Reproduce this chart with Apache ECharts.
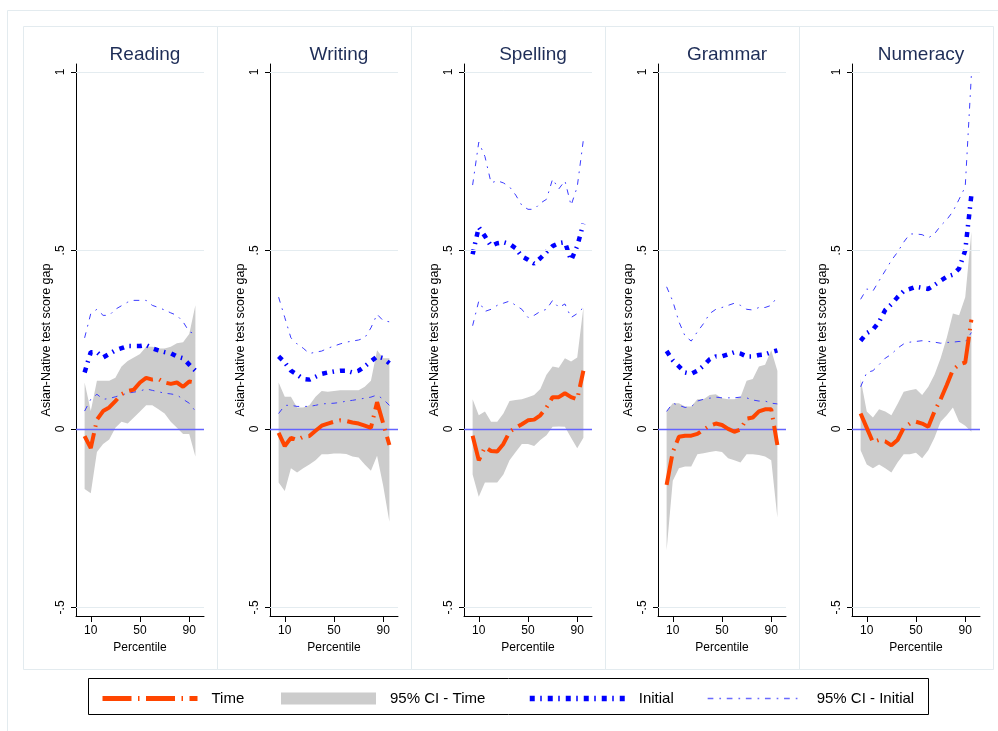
<!DOCTYPE html>
<html>
<head>
<meta charset="utf-8">
<script src="https://cdn.jsdelivr.net/npm/echarts@6/dist/echarts.min.js"></script>
<style>
html,body{margin:0;padding:0;background:#fff;}
#chart{width:998px;height:731px;}
</style>
</head>
<body>
<div id="chart"></div>
<script>
// ---- data ----
const percentiles = [5,10,15,20,25,30,35,40,45,50,55,60,65,70,75,80,85,90,95];
const subjects = ['Reading','Writing','Spelling','Grammar','Numeracy'];
const xTicks = [10,50,90];
const yTicks = [-0.5,0,0.5,1];

const readingTime    = [-0.02,-0.054,0.026,0.05,0.06,0.078,0.097,0.106,0.11,0.13,0.143,0.138,0.14,0.13,0.126,0.13,0.118,0.133,0.13];
const readingTimeLo  = [-0.168,-0.18,-0.065,-0.042,-0.03,0.003,0.02,0.015,0.032,0.049,0.066,0.066,0.055,0.043,0.02,0.003,-0.014,-0.014,-0.077];
const readingTimeHi  = [0.13,0.05,0.135,0.135,0.135,0.143,0.175,0.19,0.2,0.21,0.23,0.23,0.225,0.225,0.23,0.24,0.243,0.266,0.346];
const readingInit    = [0.158,0.215,0.215,0.2,0.21,0.22,0.226,0.232,0.232,0.232,0.235,0.226,0.22,0.215,0.212,0.203,0.198,0.18,0.163];
const readingInitHi  = [0.255,0.323,0.335,0.318,0.318,0.335,0.345,0.355,0.36,0.36,0.36,0.346,0.34,0.333,0.325,0.318,0.30,0.272,0.266];
const readingInitLo  = [0.05,0.083,0.097,0.083,0.085,0.09,0.095,0.1,0.103,0.106,0.112,0.108,0.104,0.1,0.098,0.095,0.083,0.072,0.05];

const writingTime    = [-0.011,-0.048,-0.025,-0.031,-0.022,-0.02,-0.005,0.009,0.015,0.02,0.024,0.022,0.018,0.015,0.009,0.003,0.075,0.015,-0.045];
const writingTimeLo  = [-0.15,-0.174,-0.11,-0.122,-0.11,-0.1,-0.088,-0.071,-0.071,-0.069,-0.069,-0.07,-0.077,-0.08,-0.1,-0.117,-0.075,-0.16,-0.26];
const writingTimeHi  = [0.13,0.09,0.09,0.06,0.06,0.066,0.09,0.106,0.104,0.106,0.108,0.108,0.108,0.108,0.118,0.135,0.22,0.198,0.198];
const writingInit    = [0.203,0.186,0.163,0.152,0.14,0.138,0.146,0.154,0.158,0.161,0.163,0.163,0.158,0.163,0.175,0.189,0.203,0.198,0.184];
const writingInitHi  = [0.369,0.312,0.255,0.238,0.226,0.211,0.215,0.218,0.226,0.232,0.238,0.243,0.246,0.249,0.255,0.283,0.321,0.303,0.3];
const writingInitLo  = [0.043,0.066,0.066,0.063,0.063,0.063,0.066,0.07,0.071,0.072,0.074,0.078,0.08,0.083,0.086,0.089,0.095,0.083,0.066];

const spellingTime   = [-0.019,-0.088,-0.051,-0.062,-0.063,-0.042,-0.008,0.003,0.013,0.024,0.026,0.038,0.06,0.089,0.089,0.1,0.089,0.083,0.163];
const spellingTimeLo = [-0.128,-0.19,-0.15,-0.15,-0.15,-0.128,-0.088,-0.065,-0.042,-0.042,-0.048,-0.031,-0.018,0.006,0.007,0.006,-0.025,-0.054,-0.025];
const spellingTimeHi = [0.083,0.038,0.049,0.02,0.02,0.043,0.078,0.081,0.083,0.089,0.095,0.112,0.152,0.175,0.171,0.198,0.189,0.2,0.34];
const spellingInit   = [0.489,0.565,0.54,0.512,0.52,0.523,0.518,0.506,0.483,0.474,0.463,0.478,0.495,0.512,0.52,0.523,0.472,0.512,0.575];
const spellingInitHi = [0.683,0.803,0.763,0.689,0.695,0.689,0.678,0.655,0.626,0.615,0.615,0.632,0.643,0.70,0.672,0.695,0.626,0.678,0.81];
const spellingInitLo = [0.289,0.358,0.329,0.335,0.346,0.352,0.358,0.346,0.335,0.312,0.318,0.329,0.335,0.36,0.34,0.35,0.312,0.323,0.34];

const grammarTime    = [-0.157,-0.065,-0.022,-0.019,-0.019,-0.014,-0.002,0.009,0.015,0.011,0,-0.008,-0.002,0.029,0.032,0.049,0.055,0.055,-0.045];
const grammarTimeLo  = [-0.34,-0.145,-0.11,-0.105,-0.105,-0.071,-0.068,-0.065,-0.062,-0.065,-0.082,-0.088,-0.094,-0.071,-0.071,-0.073,-0.077,-0.088,-0.248];
const grammarTimeHi  = [0.049,0.072,0.072,0.063,0.063,0.083,0.083,0.095,0.097,0.086,0.083,0.083,0.089,0.135,0.14,0.175,0.18,0.22,0.163];
const grammarInit    = [0.218,0.192,0.175,0.158,0.154,0.163,0.177,0.195,0.203,0.203,0.209,0.215,0.211,0.203,0.203,0.207,0.209,0.215,0.22];
const grammarInitHi  = [0.398,0.358,0.30,0.26,0.246,0.272,0.295,0.323,0.335,0.34,0.346,0.352,0.346,0.335,0.333,0.34,0.34,0.346,0.371];
const grammarInitLo  = [0.049,0.072,0.066,0.06,0.062,0.078,0.083,0.086,0.089,0.087,0.087,0.087,0.089,0.087,0.081,0.078,0.078,0.072,0.07];

const numeracyTime   = [0.043,0.003,-0.037,-0.031,-0.035,-0.046,-0.031,0.003,0.015,0.02,0.015,0.006,0.049,0.083,0.123,0.166,0.18,0.186,0.306];
const numeracyTimeLo = [-0.06,-0.1,-0.11,-0.1,-0.11,-0.122,-0.094,-0.071,-0.071,-0.067,-0.082,-0.06,-0.025,0.02,0.038,0.06,0.02,0.009,-0.008];
const numeracyTimeHi = [0.14,0.049,0.032,0.055,0.049,0.038,0.07,0.104,0.108,0.112,0.095,0.118,0.152,0.198,0.255,0.323,0.318,0.369,0.552];
const numeracyInit   = [0.247,0.268,0.278,0.30,0.333,0.349,0.369,0.386,0.392,0.398,0.395,0.392,0.403,0.415,0.426,0.432,0.449,0.5,0.655];
const numeracyInitHi = [0.363,0.392,0.386,0.415,0.443,0.472,0.495,0.523,0.546,0.546,0.544,0.535,0.546,0.569,0.586,0.609,0.643,0.678,0.992];
const numeracyInitLo = [0.118,0.158,0.163,0.18,0.198,0.209,0.226,0.238,0.243,0.245,0.247,0.245,0.243,0.24,0.242,0.243,0.245,0.243,0.27];

const panels = [
  {time: readingTime,  lo: readingTimeLo,  hi: readingTimeHi,  init: readingInit,  iHi: readingInitHi,  iLo: readingInitLo},
  {time: writingTime,  lo: writingTimeLo,  hi: writingTimeHi,  init: writingInit,  iHi: writingInitHi,  iLo: writingInitLo},
  {time: spellingTime, lo: spellingTimeLo, hi: spellingTimeHi, init: spellingInit, iHi: spellingInitHi, iLo: spellingInitLo},
  {time: grammarTime,  lo: grammarTimeLo,  hi: grammarTimeHi,  init: grammarInit,  iHi: grammarInitHi,  iLo: grammarInitLo},
  {time: numeracyTime, lo: numeracyTimeLo, hi: numeracyTimeHi, init: numeracyInit, iHi: numeracyInitHi, iLo: numeracyInitLo}
];

// ---- styles / layout ----
const FONT = "'Liberation Sans', Arial, Helvetica, sans-serif";
const PANEL_STEP = 194, GRID_LEFT0 = 76, GRID_W = 128, GRID_TOP = 64, GRID_H = 552;
const C_TIME = '#ff4500', C_INIT = '#0000ff', C_CI = '#3c3cff', C_BAND = '#cccccc';
const DASH_TIME = [29, 6.5, 1.5, 6.5];
const DASH_INIT = [5, 5.5, 1.5, 6];
const DASH_CI = [5.7, 6, 1.7, 5.7];

const pairs = arr => percentiles.map((p, j) => [p, arr[j]]);
const fmtY = v => v === 0.5 ? '.5' : v === -0.5 ? '-.5' : String(v);

const grids = [], xAxes = [], yAxes = [], titles = [], series = [];
subjects.forEach((name, i) => {
  const left = GRID_LEFT0 + PANEL_STEP * i;
  grids.push({left: left, top: GRID_TOP, width: GRID_W, height: GRID_H, containLabel: false});
  titles.push({
    text: name, left: left + GRID_W / 2, top: 40, textAlign: 'center',
    textStyle: {fontSize: 19, fontWeight: 'normal', color: '#1e2d57', fontFamily: FONT}
  });
  xAxes.push({
    type: 'value', gridIndex: i, min: -2, max: 102,
    axisLine: {show: true, onZero: false, lineStyle: {color: '#000', width: 1}},
    axisTick: {show: true, customValues: xTicks, length: 6, lineStyle: {color: '#000'}},
    axisLabel: {show: true, customValues: xTicks, fontSize: 12, color: '#000', margin: 9, fontFamily: FONT},
    splitLine: {show: false},
    name: 'Percentile', nameLocation: 'middle', nameGap: 24,
    nameTextStyle: {fontSize: 12, color: '#000', fontFamily: FONT}
  });
  yAxes.push({
    type: 'value', gridIndex: i, min: -0.524, max: 1.022,
    axisLine: {show: true, onZero: false, lineStyle: {color: '#000', width: 1}},
    axisTick: {show: true, customValues: yTicks, length: 5, lineStyle: {color: '#000'}},
    axisLabel: {show: true, customValues: yTicks, rotate: 90, fontSize: 12, color: '#000', margin: 9,
      formatter: fmtY, fontFamily: FONT},
    splitLine: {show: false},
    name: 'Asian-Native test score gap', nameLocation: 'middle', nameRotate: 90, nameGap: 23,
    nameTextStyle: {fontSize: 12.5, color: '#000', fontFamily: FONT}
  });
  const p = panels[i];
  // 95% CI band for Time: polygon built from the data through the axes' scales
  series.push({
    type: 'custom', name: '95% CI - Time', xAxisIndex: i, yAxisIndex: i,
    data: [[50, 0]], silent: true, z: 1,
    itemStyle: {color: C_BAND},
    renderItem: (params, api) => {
      const upper = percentiles.map((x, j) => api.coord([x, p.hi[j]]));
      const lower = percentiles.map((x, j) => api.coord([x, p.lo[j]])).reverse();
      return {type: 'polygon', shape: {points: upper.concat(lower)}, style: {fill: C_BAND, stroke: null}};
    }
  });
  // CI initial
  [p.iHi, p.iLo].forEach((arr, k) => {
    const s = {
      type: 'line', name: '95% CI - Initial', xAxisIndex: i, yAxisIndex: i,
      data: pairs(arr), symbol: 'none', silent: true, z: 3,
      itemStyle: {color: C_CI},
      lineStyle: {color: C_CI, width: 1, type: DASH_CI}
    };
    if (k === 0) {
      s.markLine = {
        silent: true, symbol: 'none', label: {show: false}, animation: false,
        data: [
          {yAxis: 1, lineStyle: {color: '#e4ecf0', width: 1.2, type: 'solid'}},
          {yAxis: 0.5, lineStyle: {color: '#e4ecf0', width: 1.2, type: 'solid'}},
          {yAxis: -0.5, lineStyle: {color: '#e4ecf0', width: 1.2, type: 'solid'}},
          {yAxis: 0, lineStyle: {color: '#6464ff', width: 1.3, type: 'solid'}}
        ]
      };
    }
    series.push(s);
  });
  series.push({
    type: 'line', name: 'Initial', xAxisIndex: i, yAxisIndex: i,
    data: pairs(p.init), symbol: 'none', silent: true, z: 4,
    itemStyle: {color: C_INIT},
    lineStyle: {color: C_INIT, width: 4.5, type: DASH_INIT, cap: 'butt'}
  });
  series.push({
    type: 'line', name: 'Time', xAxisIndex: i, yAxisIndex: i,
    data: pairs(p.time), symbol: 'none', silent: true, z: 5,
    itemStyle: {color: C_TIME},
    lineStyle: {color: C_TIME, width: 4, type: DASH_TIME, cap: 'butt'}
  });
});

const legendBase = {
  top: 691, itemWidth: 95, itemHeight: 12, padding: 0, selectedMode: false,
  textStyle: {fontSize: 15, color: '#000', fontFamily: FONT, padding: [0, 0, 0, 9]}
};
const hideSymbol = {opacity: 0};
const legends = [
  Object.assign({}, legendBase, {left: 100, lineStyle: {width: 5, color: C_TIME, type: DASH_TIME, cap: 'butt'},
    data: [{name: 'Time', itemStyle: hideSymbol}]}),
  Object.assign({}, legendBase, {left: 281, data: [{name: '95% CI - Time', icon: 'rect', itemStyle: {color: C_BAND}}]}),
  Object.assign({}, legendBase, {left: 527, lineStyle: {width: 5.5, color: C_INIT, type: DASH_INIT, cap: 'butt'},
    data: [{name: 'Initial', itemStyle: hideSymbol}]}),
  Object.assign({}, legendBase, {left: 707, lineStyle: {width: 1.3, color: '#6a6aff', type: DASH_CI},
    data: [{name: '95% CI - Initial', itemStyle: hideSymbol}]})
];

const graphics = [
  {type: 'rect', shape: {x: 7.5, y: 10.5, width: 1000, height: 730}, style: {fill: 'none', stroke: '#e3ebef', lineWidth: 1}, silent: true, z: -10},
  {type: 'rect', shape: {x: 88.5, y: 678.5, width: 840, height: 36}, style: {fill: 'none', stroke: '#000', lineWidth: 1}, silent: true, z: -5}
];
subjects.forEach((s, i) => {
  graphics.push({type: 'rect', shape: {x: 23.5 + PANEL_STEP * i, y: 26.5, width: PANEL_STEP, height: 643},
    style: {fill: 'none', stroke: '#e3ebef', lineWidth: 1}, silent: true, z: -10});
});

const chart = echarts.init(document.getElementById('chart'), null, {renderer: 'canvas'});
chart.setOption({
  animation: false,
  backgroundColor: '#ffffff',
  textStyle: {fontFamily: FONT},
  title: titles,
  grid: grids,
  xAxis: xAxes,
  yAxis: yAxes,
  legend: legends,
  graphic: graphics,
  series: series
});
</script>
</body>
</html>
